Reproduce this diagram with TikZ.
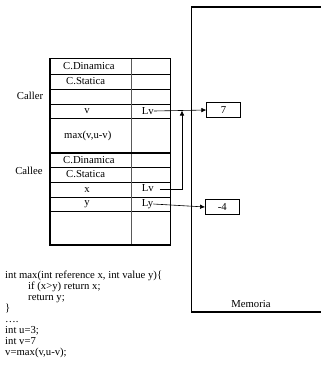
\documentclass[tikz,border=0pt]{standalone}
\usepackage{fontspec}
\setmainfont{Liberation Serif}
\usetikzlibrary{arrows.meta}

\begin{document}
\begin{tikzpicture}[
        x=1pt, y=-1pt,
        font=\fontsize{10.7}{11}\selectfont,
        cell/.style={inner sep=0pt},
        valbox/.style={rectangle, draw, line width=0.6pt, minimum
          width=33.8pt, minimum height=15.5pt, inner sep=0pt},
        frame/.style={draw, line width=1.6pt},
        rule/.style={draw, line width=0.5pt},
        line/.style={draw, -{Latex[length=5pt, width=4.5pt]}, line width=0.6pt}
      ]
      \useasboundingbox (0,0) rectangle (321,368);

      % memoria
      \draw[line width=1.3pt] (330,7) -- (191.5,7) -- (191.5,312) -- (330,312);
      \node [cell] (memoria) at (251,304) {Memoria};

      % stack
      \foreach \y in {74, 89, 104, 118, 167, 182, 197.5, 211}
        \draw[rule] (50,\y) -- (170.5,\y);
      \draw[rule, draw=gray!70!black] (131,58.5) -- (131,245);
      \draw[frame] (50,153) -- (170.5,153);
      \draw[frame] (50,58.5) rectangle (170.5,245);

      \node [cell] (caller) at (30,96) {Caller};
      \node [cell] (callee) at (29,171) {Callee};

      \node [cell, anchor=west] (r_dyn) at (63,66.3) {C.Dinamica};
      \node [cell, anchor=west] (r_stat) at (66,81.5) {C.Statica};
      \node [cell] (r_v) at (87,111) {v};
      \node [cell, anchor=west] (r_max) at (64,135.5) {max(v,u-v)};
      \node [cell, anchor=west] (lv_caller) at (141.7,111) {Lv};

      \node [cell, anchor=west] (e_dyn) at (63,160) {C.Dinamica};
      \node [cell, anchor=west] (e_stat) at (66,174.5) {C.Statica};
      \node [cell] (e_x) at (87,190) {x};
      \node [cell] (e_y) at (87,204) {y};
      \node [cell, anchor=west] (lv_callee) at (141.7,188) {Lv};
      \node [cell, anchor=west] (ly_callee) at (141.7,204) {Ly};

      \node [valbox] (val_v) at (223.6,110) {7};
      \node [valbox] (val_y) at (222.3,207) {-4};

      \coordinate (bend) at (182,189);
      \coordinate (join) at (182,110.5);

      \path [line] (lv_caller.east) -- (val_v.west);
      \path [line] (ly_callee.east) -- (val_y.west);
      \path [line, shorten <=6pt] (lv_callee.east |- bend) -- (bend) -- (join);

      % codice
      \node [cell, anchor=north west, align=left] (code) at (5,271)
      {int max(int reference x, int value y)\{\\
        \hspace*{23pt}if (x>y) return x;\\
        \hspace*{23pt}return y;\\
        \}\\
        \dots.\\
        int u=3;\\
        int v=7\\
        v=max(v,u-v);};

    \end{tikzpicture}
\end{document}
